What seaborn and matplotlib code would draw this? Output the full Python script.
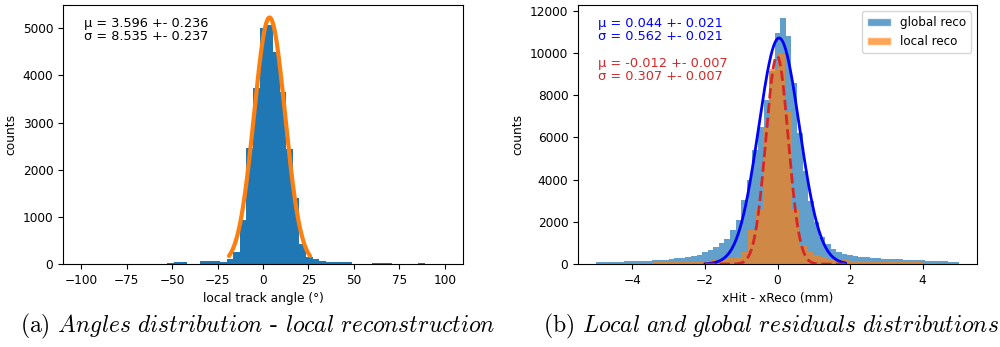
import numpy as np
import pandas as pd
import matplotlib
matplotlib.use("Agg")
import matplotlib.pyplot as plt
from matplotlib.patches import Patch
import seaborn as sns

# --- left panel: local track angle histogram (55 bins over -100..100) ---
angle_counts = [2, 3, 2, 3, 2, 3, 2, 3, 3, 2, 3, 3, 3, 15, 45,
                40, 8, 10, 65, 75, 70, 45, 100, 250, 930, 2470, 3730, 5000, 5070, 4486,
                3640, 2444, 1390, 420, 150, 110, 60, 42, 40, 40, 40, 8, 4, 12, 14,
                14, 14, 12, 5, 4, 5, 18, 4, 3, 2]
angle_range = (-100, 100)
angle_edges = np.linspace(angle_range[0], angle_range[1], len(angle_counts) + 1)
angle_centers = (angle_edges[:-1] + angle_edges[1:]) / 2
angle_mu, angle_sigma, angle_amp = 3.596, 8.535, 5225
angle_fit_range = (-18.7, 25.9)

# --- right panel: residuals, global reco (65 bins) and local reco (50 bins) over -5..5 ---
global_counts = [75, 80, 85, 110, 120, 125, 135, 150, 155, 160, 180, 200, 210, 240, 270,
                 300, 340, 380, 440, 550, 660, 790, 980, 1210, 1600, 2110, 3020, 4000, 5400, 6480,
                 7760, 9160, 10960, 11680, 10820, 8600, 6200, 4400, 3000, 2000, 1300, 950, 700, 560, 470,
                 420, 380, 350, 330, 310, 290, 260, 240, 230, 220, 200, 190, 180, 170, 150,
                 140, 135, 130, 100, 90]
local_counts = [5, 5, 8, 10, 15, 60, 65, 70, 75, 80, 90, 95, 100, 105, 110,
                130, 170, 236, 280, 346, 581, 1606, 2600, 6500, 9240, 9950, 7200, 2600, 900, 555,
                440, 330, 260, 220, 190, 160, 140, 130, 120, 110, 100, 95, 90, 85, 80,
                60, 40, 20, 10, 5]
res_range = (-5, 5)
global_edges = np.linspace(res_range[0], res_range[1], len(global_counts) + 1)
local_edges = np.linspace(res_range[0], res_range[1], len(local_counts) + 1)
global_centers = (global_edges[:-1] + global_edges[1:]) / 2
local_centers = (local_edges[:-1] + local_edges[1:]) / 2
global_mu, global_sigma, global_amp = 0.044, 0.562, 10710
local_mu, local_sigma, local_amp = -0.012, 0.307, 9850
fit_range = (-2.0, 1.88)


def gauss(x, amp, mu, sigma):
    return amp * np.exp(-0.5 * ((x - mu) / sigma) ** 2)


sns.set_style("ticks")
plt.rcParams['font.family'] = ['DejaVu Sans']
plt.rcParams['font.size'] = 8.8
plt.rcParams['mathtext.fontset'] = 'cm'
plt.rcParams['axes.edgecolor'] = 'black'
plt.rcParams['xtick.color'] = 'black'
plt.rcParams['ytick.color'] = 'black'
plt.rcParams['text.color'] = 'black'
plt.rcParams['axes.labelcolor'] = 'black'

fig = plt.figure(figsize=(10, 3.47), dpi=100)
ax1 = fig.add_axes([0.063, 0.239, 0.400, 0.746])
ax2 = fig.add_axes([0.578, 0.239, 0.399, 0.746])

# left
df_angle = pd.DataFrame({"angle": angle_centers, "n": angle_counts})
sns.histplot(data=df_angle, x="angle", weights="n", bins=len(angle_counts), binrange=angle_range,
             color="C0", alpha=1, linewidth=0, ax=ax1)
xa = np.linspace(angle_fit_range[0], angle_fit_range[1], 300)
ax1.plot(xa, gauss(xa, angle_amp, angle_mu, angle_sigma), color="C1", lw=3)
ax1.text(0.053, 0.955, f"μ = {angle_mu:.3f} +- 0.236\nσ = {angle_sigma:.3f} +- 0.237",
         transform=ax1.transAxes, va="top", ha="left", fontsize=9.3, linespacing=1.05)
ax1.set_xticks([-100, -75, -50, -25, 0, 25, 50, 75, 100])
ax1.set_xlabel("local track angle (°)", fontsize=8.8)
ax1.set_ylabel("counts", fontsize=8.8)

# right
df_g = pd.DataFrame({"res": global_centers, "n": global_counts})
df_l = pd.DataFrame({"res": local_centers, "n": local_counts})
sns.histplot(data=df_g, x="res", weights="n", bins=len(global_counts), binrange=res_range,
             color="C0", alpha=0.7, linewidth=0, ax=ax2)
sns.histplot(data=df_l, x="res", weights="n", bins=len(local_counts), binrange=res_range,
             color="C1", alpha=0.7, linewidth=0, ax=ax2)
xr = np.linspace(fit_range[0], fit_range[1], 300)
ax2.plot(xr, gauss(xr, global_amp, global_mu, global_sigma), color="blue", lw=2)
ax2.plot(xr, gauss(xr, local_amp, local_mu, local_sigma), color="tab:red", lw=2, ls="--")
ax2.text(0.05, 0.955, f"μ = {global_mu:.3f} +- 0.021\nσ = {global_sigma:.3f} +- 0.021",
         transform=ax2.transAxes, va="top", ha="left", fontsize=9.3, color="blue", linespacing=1.05)
ax2.text(0.05, 0.80, f"μ = {local_mu:.3f} +- 0.007\nσ = {local_sigma:.3f} +- 0.007",
         transform=ax2.transAxes, va="top", ha="left", fontsize=9.3, color="tab:red", linespacing=1.05)
ax2.set_xticks([-4, -2, 0, 2, 4])
ax2.set_yticks(range(0, 12001, 2000))
ax2.set_xlabel("xHit - xReco (mm)", fontsize=8.8)
ax2.set_ylabel("counts", fontsize=8.8)
handles = [Patch(facecolor="C0", alpha=0.7, label="global reco"),
           Patch(facecolor="C1", alpha=0.7, label="local reco")]
ax2.legend(handles=handles, loc="upper right", fontsize=8.6, frameon=True)

for ax in (ax1, ax2):
    ax.tick_params(labelsize=8.7, direction="out", length=3.5, width=0.8)
    for s in ax.spines.values():
        s.set_linewidth(0.8)

# captions
fig.text(0.02, 0.058, r"(a) $\mathit{Angles\ distribution}$ - $\mathit{local\ reconstruction}$",
         family="cmr10", fontsize=17, va="center", ha="left")
fig.text(0.543, 0.058, r"(b) $\mathit{Local\ and\ global\ residuals\ distributions}$",
         family="cmr10", fontsize=17, va="center", ha="left")

fig.savefig("out.png", dpi=100)
